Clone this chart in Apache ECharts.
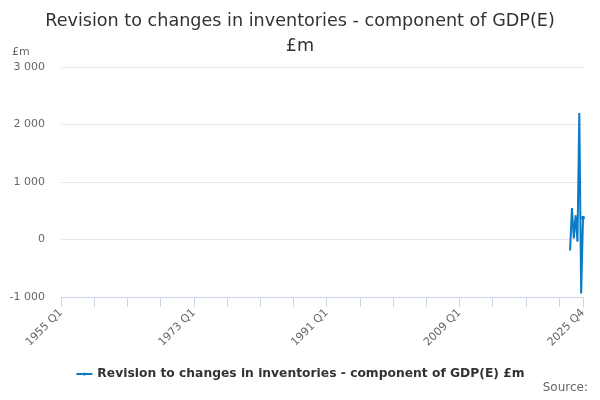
<!DOCTYPE html>
<html>
<head>
<meta charset="utf-8">
<script src="https://cdn.jsdelivr.net/npm/echarts@6/dist/echarts.min.js"></script>
<style>html,body{margin:0;padding:0;background:#fff}#c{width:600px;height:400px}</style>
</head>
<body>
<div id="c"></div>
<script>
var firstYear = 1955, lastYear = 2025;
var quarters = ['Q1','Q2','Q3','Q4'];
var categories = [];
for (var y = firstYear; y <= lastYear; y++) for (var q = 0; q < 4; q++) categories.push(y + ' ' + quarters[q]);

var dataPeriods = ['2024 Q1','2024 Q2','2024 Q3','2024 Q4','2025 Q1','2025 Q2','2025 Q3','2025 Q4'];
var dataValues  = [-190, 545, 20, 420, -40, 2200, -940, 380];
var yTicks = [-1000, 0, 1000, 2000, 3000];
var seriesName = 'Revision to changes in inventories - component of GDP(E) £m';

var lastIdx = categories.length - 1;
var chart = echarts.init(document.getElementById('c'));
chart.setOption({
  animation: false,
  title: {
    text: 'Revision to changes in inventories - component of GDP(E)\n£m',
    left: 'center', top: 4,
    textStyle: {fontFamily: 'DejaVu Sans', fontSize: 17.6, fontWeight: 'normal', color: '#333', lineHeight: 25}
  },
  graphic: [
    {type: 'text', left: 12, top: 47, style: {text: '£m', font: '11px DejaVu Sans', fill: '#666'}},
    {type: 'text', right: 12, top: 382, style: {text: 'Source:', font: '12px DejaVu Sans', fill: '#666'}}
  ],
  legend: {
    bottom: 15, left: 'center',
    itemWidth: 16, itemHeight: 4,
    textStyle: {fontFamily: 'DejaVu Sans', fontSize: 12.3, fontWeight: 'bold', color: '#333'}
  },
  grid: {left: 61, right: 17, top: 67, bottom: 103},
  xAxis: {
    type: 'category', data: categories, boundaryGap: false,
    axisLine: {onZero: false, lineStyle: {color: '#ccd6eb'}},
    axisTick: {length: 10, lineStyle: {color: '#ccd6eb'}, interval: function (i) { return i % 18 === 0 || i === lastIdx; }},
    axisLabel: {rotate: 45, fontFamily: 'DejaVu Sans', fontSize: 11, color: '#666', margin: 14,
      interval: function (i) { return i % 72 === 0 || i === lastIdx; }},
    splitLine: {show: false}
  },
  yAxis: {
    type: 'value', min: yTicks[0], max: yTicks[yTicks.length - 1], interval: 1000,
    axisLine: {show: false}, axisTick: {show: false},
    axisLabel: {margin: 16, fontFamily: 'DejaVu Sans', fontSize: 11, color: '#666',
      formatter: function (v) { return String(v).replace(/\B(?=(\d{3})+(?!\d))/g, ' '); }},
    splitLine: {lineStyle: {color: '#e6e6e6'}}
  },
  series: [{
    name: seriesName, type: 'line',
    data: dataPeriods.map(function (p, i) { return [p, dataValues[i]]; }),
    color: '#0a7bc4',
    lineStyle: {width: 2},
    symbol: 'circle', symbolSize: 4, showSymbol: true
  }]
});
</script>
</body>
</html>
